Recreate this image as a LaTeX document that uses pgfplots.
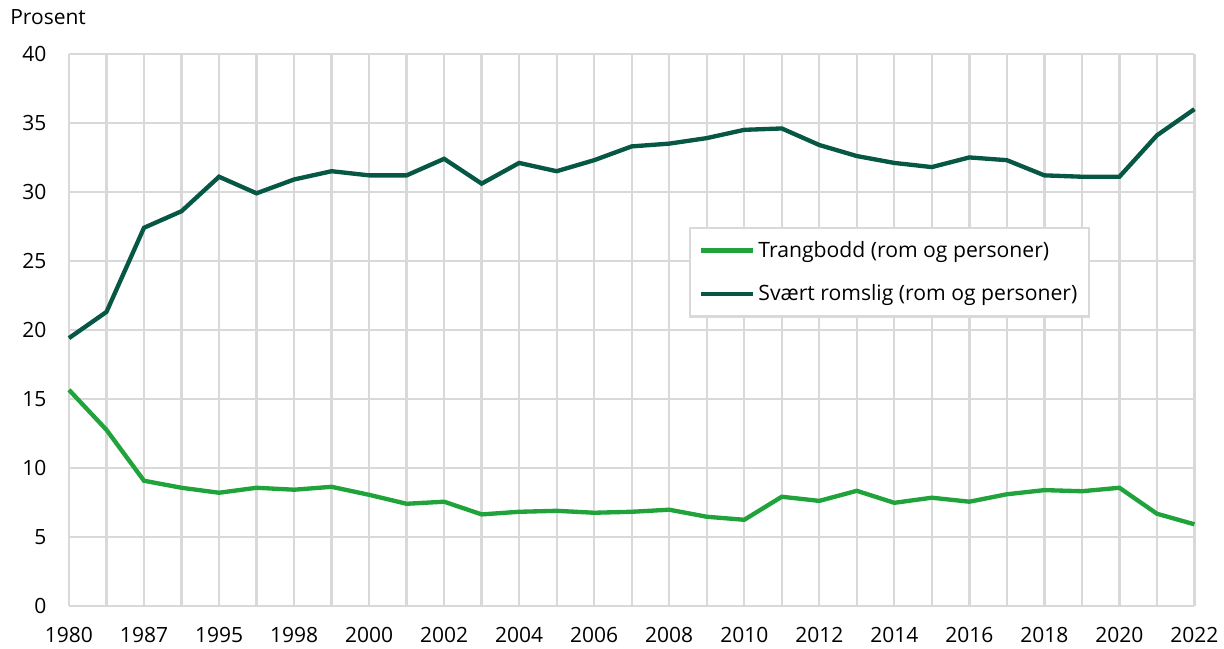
\documentclass[border=0pt]{standalone}
\usepackage{fontspec}
\setmainfont{Open Sans}
\usepackage{pgfplots}
\pgfplotsset{compat=1.18}
\definecolor{lightgreen}{HTML}{1FA33A}
\definecolor{darkgreen}{HTML}{075745}
\definecolor{gridgray}{HTML}{D9D9D9}
\begin{document}
\begin{tikzpicture}[font=\fontsize{12.6pt}{15pt}\selectfont]
\begin{axis}[
  scale only axis,
  width=675.6pt, height=331.2pt,
  xmin=0, xmax=30, ymin=0, ymax=40,
  xtick={0,...,30},
  xticklabels={1980,,1987,,1995,,1998,,2000,,2002,,2004,,2006,,2008,,2010,,2012,,2014,,2016,,2018,,2020,,2022},
  ytick={0,5,...,40},
  /pgf/number format/assume math mode=true,
  grid=major,
  major grid style={gridgray, line width=1.4pt},
  axis line style={draw=none},
  major tick length=0pt,
  xticklabel style={yshift=-9.6pt},
  yticklabel style={xshift=-10pt},
  clip=false,
  legend cell align=left,
  legend style={at={(0.551,0.687)}, anchor=north west,
    draw=gridgray, line width=1.4pt, inner xsep=5pt, inner ysep=6pt,
    row sep=11pt, font=\fontsize{12.7pt}{15pt}\selectfont},
  legend image code/.code={\draw[#1, line width=2.6pt] (0cm,0cm) -- (1.1cm,0cm);},
]
% Trangbodd (rom og personer)
\addplot[lightgreen, line width=2.6pt] coordinates {
  (0,15.65) (1,12.75) (2,9.06) (3,8.55) (4,8.19) (5,8.55) (6,8.41) (7,8.62)
  (8,8.04) (9,7.39) (10,7.54) (11,6.62) (12,6.81) (13,6.88) (14,6.74) (15,6.81)
  (16,6.96) (17,6.45) (18,6.23) (19,7.90) (20,7.60) (21,8.33) (22,7.46) (23,7.83)
  (24,7.54) (25,8.08) (26,8.38) (27,8.30) (28,8.55) (29,6.67) (30,5.90)
};
\addlegendentry{Trangbodd (rom og personer)}
% Svært romslig (rom og personer)
\addplot[darkgreen, line width=2.6pt] coordinates {
  (0,19.4) (1,21.3) (2,27.4) (3,28.6) (4,31.1) (5,29.9) (6,30.9) (7,31.5)
  (8,31.2) (9,31.2) (10,32.4) (11,30.6) (12,32.1) (13,31.5) (14,32.3) (15,33.3)
  (16,33.5) (17,33.9) (18,34.5) (19,34.6) (20,33.4) (21,32.6) (22,32.1) (23,31.8)
  (24,32.5) (25,32.3) (26,31.2) (27,31.1) (28,31.1) (29,34.1) (30,36.0)
};
\addlegendentry{Svært romslig (rom og personer)}
\node[anchor=base west, inner sep=0pt] at ([xshift=-35.4pt, yshift=17.4pt]rel axis cs:0,1) {Prosent};
% page margins as in the reference
\path ([xshift=-41.4pt, yshift=-25.2pt]rel axis cs:0,0) ([xshift=17.4pt, yshift=32.4pt]rel axis cs:1,1);
\end{axis}
\end{tikzpicture}
\end{document}
